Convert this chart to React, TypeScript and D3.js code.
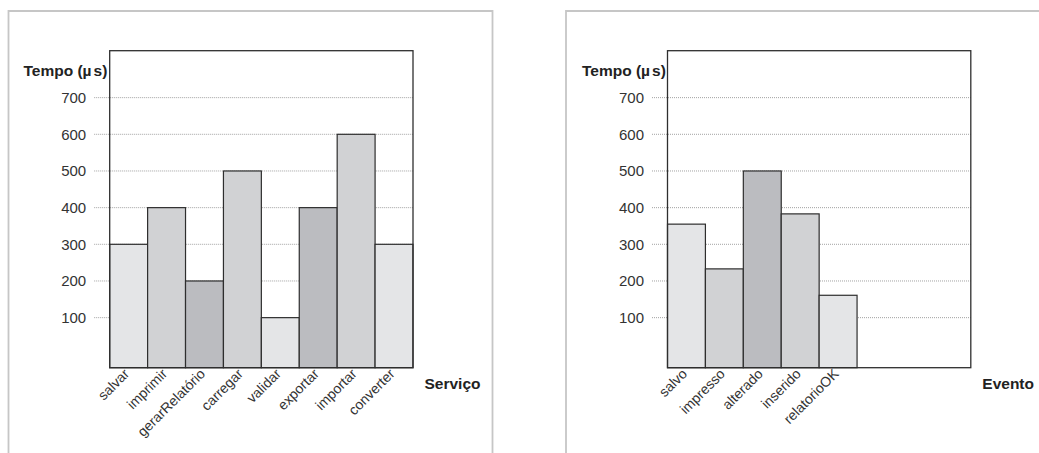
import React from "react";
import * as d3 from "d3";

const servicos = ["salvar", "imprimir", "gerarRelatório", "carregar", "validar", "exportar", "importar", "converter"];
const servicoValores = [300, 400, 200, 500, 100, 400, 600, 300];
const servicoTons = ["light", "mid", "dark", "mid", "light", "dark", "mid", "light"];

const eventos = ["salvo", "impresso", "alterado", "inserido", "relatorioOK"];
const eventoValores = [355, 233, 500, 383, 161];
const eventoTons = ["light", "mid", "dark", "mid", "light"];

const yTicks = [100, 200, 300, 400, 500, 600, 700];
const slots = 8;

const tons: Record<string, string> = { light: "#e4e5e7", mid: "#d1d2d4", dark: "#bbbcc0" };

const W = 1039;
const H = 453;
const TOP = 50.7;
const BOTTOM = 367.7;
const FONT = "'Liberation Sans', Arial, Helvetica, sans-serif";

function Panel({ left, cats, vals, cols, xTitle, titleX, frameX, frameRight }: any) {
  const right = left + 303.3;
  const y = d3.scaleLinear().domain([-36.5, 828]).range([BOTTOM, TOP]);
  const x = d3.scaleBand<number>().domain(d3.range(slots)).range([left, right]).paddingInner(0).paddingOuter(0);
  const base = y.range()[0];
  return (
    <g>
      <path d={`M${frameX},${H} V11 H${frameRight}` + (frameRight < W ? ` V${H}` : "")} fill="none" stroke="#c6c6c6" strokeWidth={1.8} />
      {yTicks.map((t) => (
        <g key={t}>
          <line x1={left - 15.5} x2={right} y1={y(t)} y2={y(t)} stroke="#8a8a8a" strokeWidth={0.8} strokeDasharray="1,1" />
          <text x={left - 23.5} y={y(t)} dy="0.36em" textAnchor="end" fontSize={15} fill="#333" fontFamily={FONT}>{t}</text>
        </g>
      ))}
      {vals.map((v: number, i: number) => (
        <rect key={i} x={x(i)} y={y(v)} width={x.bandwidth()} height={base - y(v)} fill={tons[cols[i]]} stroke="#2e2e2e" strokeWidth={1.2} />
      ))}
      <rect x={left} y={TOP} width={right - left} height={BOTTOM - TOP} fill="none" stroke="#2e2e2e" strokeWidth={1.3} />
      {cats.map((c: string, i: number) => {
        const cx = (x(i) as number) + x.bandwidth() / 2 + 1.5;
        const cy = BOTTOM + 7;
        return (
          <text key={c} x={cx} y={cy} transform={`rotate(-45 ${cx} ${cy})`} textAnchor="end" fontSize={14} fill="#333" fontFamily={FONT}>{c}</text>
        );
      })}
      <text x={titleX} y={75.5} fontSize={15.5} fontWeight="bold" fill="#222" fontFamily={FONT}>
        Tempo (µ<tspan dx={2}>s)</tspan>
      </text>
      <text x={right + 11.5} y={388.5} fontSize={15.5} fontWeight="bold" fill="#222" fontFamily={FONT}>{xTitle}</text>
    </g>
  );
}

export default function App() {
  return (
    <svg width={W} height={H} style={{ position: "absolute", left: 0, top: 0, background: "#fff" }}>
      <rect width={W} height={H} fill="#fff" />
      <Panel left={109.7} cats={servicos} vals={servicoValores} cols={servicoTons} xTitle="Serviço" titleX={23.5} frameX={8.5} frameRight={492.5} />
      <Panel left={667.5} cats={eventos} vals={eventoValores} cols={eventoTons} xTitle="Evento" titleX={582} frameX={566} frameRight={W} />
    </svg>
  );
}
